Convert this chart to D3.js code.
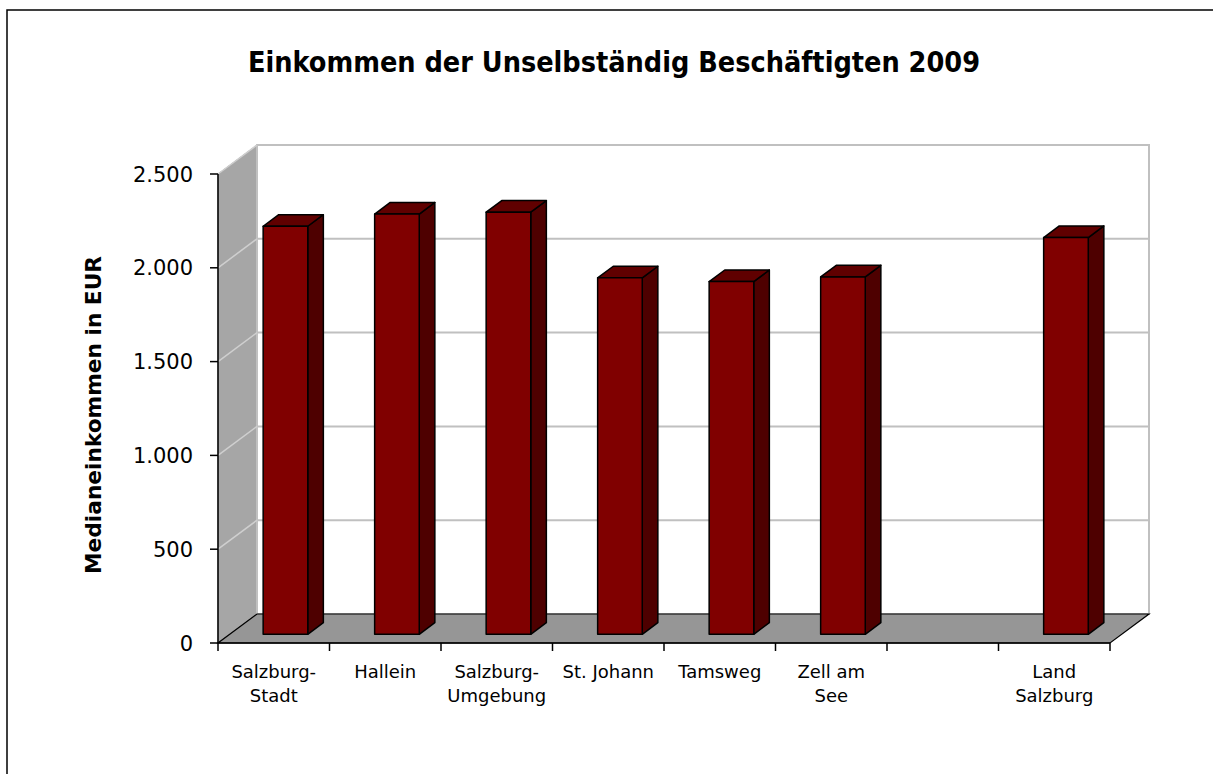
<!DOCTYPE html>
<html>
<head>
<meta charset="utf-8">
<script src="https://cdn.jsdelivr.net/npm/d3@7"></script>
<style>
  html, body { margin: 0; padding: 0; background: #fff; }
  svg { display: block; }
</style>
</head>
<body>
<svg id="chart" width="1213" height="774"></svg>
<script>
const categories = ["Salzburg-Stadt", "Hallein", "Salzburg-Umgebung", "St. Johann", "Tamsweg", "Zell am See", "", "Land Salzburg"];
const labelLines = [["Salzburg-", "Stadt"], ["Hallein"], ["Salzburg-", "Umgebung"], ["St. Johann"], ["Tamsweg"], ["Zell am", "See"], [], ["Land", "Salzburg"]];
const values = [2175, 2240, 2250, 1900, 1880, 1905, null, 2115];
const yTicks = [0, 500, 1000, 1500, 2000, 2500];

const TITLE = "Einkommen der Unselbständig Beschäftigten 2009";
const Y_TITLE = "Medianeinkommen in EUR";

// 3d depth of the plot box and the bars inside it
const DEPTH = { dx: 39, dy: -29 };
const BAR_FRONT = 0.3;
const BAR_BACK = 0.7;

const svg = d3.select("#chart");

const x = d3.scaleBand().domain(d3.range(categories.length)).range([218, 1110])
  .paddingInner(0.6).paddingOuter(0.3);
const y = d3.scaleLinear().domain([0, 2500]).range([643, 174]);

const deLocale = d3.formatLocale({ decimal: ",", thousands: ".", grouping: [3], currency: ["", " €"] });
const fmt = deLocale.format(",d");

const [x0, x1] = x.range();
const y0 = y(0), yTop = y(2500);
const dx = DEPTH.dx, dy = DEPTH.dy;

// frame
svg.append("path")
  .attr("d", `M7,774 L7,10 L1213,10`)
  .attr("fill", "none").attr("stroke", "#000").attr("stroke-width", 1.5);

// title
svg.append("text")
  .attr("x", 614).attr("y", 72)
  .attr("text-anchor", "middle")
  .attr("font-family", "'DejaVu Sans Condensed', 'DejaVu Sans', sans-serif")
  .attr("font-weight", "bold").attr("font-size", 29)
  .attr("textLength", 732).attr("lengthAdjust", "spacingAndGlyphs")
  .text(TITLE);

// walls
const walls = svg.append("g");
walls.append("polygon")
  .attr("points", [[x0, y0], [x0, yTop], [x0 + dx, yTop + dy], [x0 + dx, y0 + dy]].join(" "))
  .attr("fill", "#a6a6a6").attr("stroke", "#8c8c8c").attr("stroke-width", 1);
walls.append("rect")
  .attr("x", x0 + dx).attr("y", yTop + dy)
  .attr("width", x1 - x0).attr("height", y0 - yTop)
  .attr("fill", "#fff").attr("stroke", "#c0c0c0").attr("stroke-width", 2);
walls.append("polygon")
  .attr("points", [[x0, y0], [x1, y0], [x1 + dx, y0 + dy], [x0 + dx, y0 + dy]].join(" "))
  .attr("fill", "#969696").attr("stroke", "#000").attr("stroke-width", 1.2);

// gridlines on back and side wall
const grid = svg.append("g");
yTicks.filter(d => d > 0).forEach(v => {
  grid.append("line")
    .attr("x1", x0 + dx).attr("x2", x1 + dx)
    .attr("y1", y(v) + dy).attr("y2", y(v) + dy)
    .attr("stroke", "#c0c0c0").attr("stroke-width", 2);
  grid.append("line")
    .attr("x1", x0).attr("x2", x0 + dx)
    .attr("y1", y(v)).attr("y2", y(v) + dy)
    .attr("stroke", "#cfcfcf").attr("stroke-width", 1.5);
});

// bars
const bars = svg.append("g")
  .selectAll("g")
  .data(values.map((v, i) => ({ v, i })).filter(d => d.v != null))
  .join("g")
  .attr("stroke", "#000").attr("stroke-width", 1.5).attr("stroke-linejoin", "round");

bars.each(function (d) {
  const g = d3.select(this);
  const fx = x(d.i) + dx * BAR_FRONT, fy = dy * BAR_FRONT;
  const ox = dx * (BAR_BACK - BAR_FRONT), oy = dy * (BAR_BACK - BAR_FRONT);
  const L = fx, R = fx + x.bandwidth();
  const B = y(0) + fy, T = y(d.v) + fy;
  g.append("polygon")
    .attr("points", [[R, B], [R, T], [R + ox, T + oy], [R + ox, B + oy]].join(" "))
    .attr("fill", "#4e0000");
  g.append("polygon")
    .attr("points", [[L, T], [R, T], [R + ox, T + oy], [L + ox, T + oy]].join(" "))
    .attr("fill", "#600000");
  g.append("rect")
    .attr("x", L).attr("y", T).attr("width", R - L).attr("height", B - T)
    .attr("fill", "#800000");
});

// axes
const axes = svg.append("g").attr("stroke", "#000").attr("stroke-width", 1.5);
axes.append("line").attr("x1", x0).attr("x2", x0).attr("y1", yTop).attr("y2", y0);
axes.append("line").attr("x1", x0).attr("x2", x1).attr("y1", y0).attr("y2", y0);
yTicks.forEach(v => {
  axes.append("line").attr("x1", x0 - 8).attr("x2", x0).attr("y1", y(v)).attr("y2", y(v));
});
d3.range(categories.length + 1).forEach(i => {
  const tx = x0 + i * x.step();
  axes.append("line").attr("x1", tx).attr("x2", tx).attr("y1", y0).attr("y2", y0 + 8);
});

// y tick labels
svg.append("g")
  .selectAll("text")
  .data(yTicks)
  .join("text")
  .attr("x", 193).attr("y", d => y(d))
  .attr("dy", "0.36em")
  .attr("text-anchor", "end")
  .attr("font-family", "'DejaVu Sans', sans-serif").attr("font-size", 21)
  .attr("fill", "#000")
  .text(d => fmt(d));

// y axis title
svg.append("text")
  .attr("transform", "translate(101,415) rotate(-90)")
  .attr("text-anchor", "middle")
  .attr("font-family", "'DejaVu Sans Condensed', 'DejaVu Sans', sans-serif")
  .attr("font-weight", "bold").attr("font-size", 22)
  .attr("textLength", 318).attr("lengthAdjust", "spacingAndGlyphs")
  .text(Y_TITLE);

// category labels
const xl = svg.append("g")
  .attr("font-family", "'DejaVu Sans', sans-serif").attr("font-size", 18)
  .attr("text-anchor", "middle").attr("fill", "#000");
labelLines.forEach((lines, i) => {
  const cx = x(i) + x.bandwidth() / 2;
  const t = xl.append("text").attr("x", cx).attr("y", 678);
  lines.forEach((ln, k) => {
    t.append("tspan").attr("x", cx).attr("dy", k === 0 ? 0 : 24).text(ln);
  });
});
</script>
</body>
</html>
